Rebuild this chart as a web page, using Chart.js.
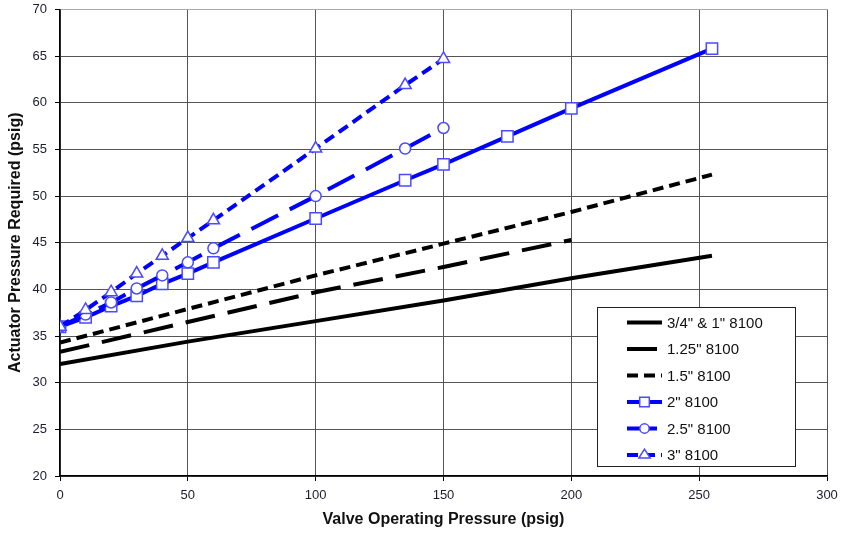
<!DOCTYPE html>
<html>
<head>
<meta charset="utf-8">
<script src="https://cdn.jsdelivr.net/npm/chart.js@4/dist/chart.umd.min.js"></script>
<style>
  html, body { margin: 0; padding: 0; background: #fff; }
  #wrap { width: 842px; height: 534px; }
</style>
</head>
<body>
<div id="wrap"><canvas id="myChart" width="842" height="534"></canvas></div>
<script>
// Series names (legend order)
const seriesNames = ['3/4" & 1" 8100', '1.25" 8100', '1.5" 8100', '2" 8100', '2.5" 8100', '3" 8100'];

// Valve operating pressure (x) and actuator pressure required (y) per series
const x34 = [0, 50, 100, 150, 200, 255];
const y34 = [32.0, 34.4, 36.6, 38.8, 41.2, 43.6];

const x125 = [0, 50, 100, 150, 200];
const y125 = [33.3, 36.5, 39.7, 42.4, 45.3];

const x15 = [0, 50, 100, 150, 200, 255];
const y15 = [34.3, 37.9, 41.5, 44.9, 48.3, 52.3];

const x2 = [0, 10, 20, 30, 40, 50, 60, 100, 135, 150, 175, 200, 255];
const y2 = [36.0, 37.0, 38.2, 39.3, 40.6, 41.7, 42.9, 47.6, 51.7, 53.4, 56.4, 59.4, 65.8];

const x25 = [0, 10, 20, 30, 40, 50, 60, 100, 135, 150];
const y25 = [36.0, 37.3, 38.6, 40.1, 41.5, 42.9, 44.4, 50.0, 55.1, 57.3];

const x3 = [0, 10, 20, 30, 40, 50, 60, 100, 135, 150];
const y3 = [36.0, 37.8, 39.7, 41.7, 43.6, 45.5, 47.4, 55.1, 61.9, 64.7];

// Axis ranges / ticks
const xMin = 0, xMax = 300, xStep = 50;
const yMin = 20, yMax = 70, yStep = 5;

const FONT = '"Liberation Sans", Arial, sans-serif';
const BLUE = '#0000ff';
const MARKER_EDGE = '#4a4aff';

function pts(xs, ys) {
    return xs.map((x, i) => ({ x: x, y: ys[i] }));
}

const styles = [
    { color: '#000', dash: [], marker: false },
    { color: '#000', dash: [30, 13], marker: false },
    { color: '#000', dash: [11, 6], marker: false },
    { color: BLUE, dash: [], marker: 'rect', radius: 8 },
    { color: BLUE, dash: [30, 13], marker: 'circle', radius: 5.5 },
    { color: BLUE, dash: [11, 6], marker: 'triangle', radius: 7 }
];

const seriesData = [pts(x34, y34), pts(x125, y125), pts(x15, y15), pts(x2, y2), pts(x25, y25), pts(x3, y3)];

const datasets = seriesData.map((d, i) => ({
    label: seriesNames[i],
    data: d,
    borderColor: styles[i].color,
    borderWidth: 4,
    borderDash: styles[i].dash,
    borderCapStyle: 'butt',
    tension: 0,
    fill: false,
    pointStyle: styles[i].marker || 'circle',
    pointRadius: styles[i].marker ? styles[i].radius : 0,
    pointHoverRadius: styles[i].marker ? styles[i].radius : 0,
    pointBackgroundColor: '#fff',
    pointBorderColor: MARKER_EDGE,
    pointBorderWidth: 1.5,
    order: 5 - i
}));

// Draw a marker like the chart points
function drawMarker(ctx, style, r, x, y) {
    ctx.save();
    ctx.setLineDash([]);
    ctx.fillStyle = '#fff';
    ctx.strokeStyle = MARKER_EDGE;
    ctx.lineWidth = 1.5;
    ctx.beginPath();
    if (style === 'rect') {
        const s = Math.SQRT1_2 * r;
        ctx.rect(x - s, y - s, 2 * s, 2 * s);
    } else if (style === 'circle') {
        ctx.arc(x, y, r, 0, Math.PI * 2);
    } else if (style === 'triangle') {
        const a = r * 0.866 * 1.1;
        ctx.moveTo(x, y - r);
        ctx.lineTo(x + a, y + r * 0.5);
        ctx.lineTo(x - a, y + r * 0.5);
        ctx.closePath();
    }
    ctx.fill();
    ctx.stroke();
    ctx.restore();
}

// Legend box inside the plot, like the original
const boxLegend = {
    id: 'boxLegend',
    afterDraw(chart) {
        const ctx = chart.ctx;
        const left = 597, top = 307, right = 795, bottom = 466;
        ctx.save();
        ctx.fillStyle = '#fff';
        ctx.fillRect(left, top, right - left, bottom - top);
        ctx.strokeStyle = '#222';
        ctx.lineWidth = 1;
        ctx.strokeRect(left + 0.5, top + 0.5, right - left, bottom - top);

        chart.data.datasets.forEach((ds, i) => {
            const y = 322.5 + i * 26.5;
            ctx.save();
            ctx.strokeStyle = ds.borderColor;
            ctx.lineWidth = 4;
            ctx.lineCap = 'butt';
            ctx.setLineDash(ds.borderDash);
            ctx.beginPath();
            ctx.moveTo(627, y);
            ctx.lineTo(662, y);
            ctx.stroke();
            ctx.restore();
            if (styles[i].marker) {
                drawMarker(ctx, styles[i].marker, styles[i].radius * 0.85, 644.5, y);
            }
            ctx.fillStyle = '#111';
            ctx.font = '15px ' + FONT;
            ctx.textBaseline = 'middle';
            ctx.textAlign = 'left';
            ctx.fillText(ds.label, 667, y + 1);
        });
        ctx.restore();
    }
};

const ctx = document.getElementById('myChart').getContext('2d');

const myChart = new Chart(ctx, {
    type: 'line',
    data: { datasets: datasets },
    options: {
        responsive: false,
        animation: false,
        events: [],
        layout: { padding: { left: 0, right: 15, top: 9, bottom: 0 } },
        plugins: {
            legend: { display: false },
            tooltip: { enabled: false }
        },
        scales: {
            x: {
                type: 'linear',
                min: xMin,
                max: xMax,
                afterFit: s => { s.height = 58; s.paddingLeft = 0; s.paddingRight = 0; },
                ticks: {
                    stepSize: xStep,
                    padding: 7,
                    color: '#1c1c2c',
                    font: { family: FONT, size: 13 }
                },
                grid: {
                    color: '#555',
                    lineWidth: 1,
                    tickColor: '#000',
                    tickLength: 5
                },
                border: { color: '#000', width: 1.5 },
                title: {
                    display: true,
                    text: 'Valve Operating Pressure (psig)',
                    color: '#111',
                    font: { family: FONT, size: 16, weight: 'bold' },
                    padding: { top: 0, bottom: 5 }
                }
            },
            y: {
                type: 'linear',
                min: yMin,
                max: yMax,
                afterFit: s => { s.width = 60; s.paddingTop = 0; s.paddingBottom = 0; },
                ticks: {
                    stepSize: yStep,
                    padding: 8,
                    color: '#1c1c2c',
                    font: { family: FONT, size: 13 }
                },
                grid: {
                    color: c => (c.tick && c.tick.value === yMax) ? '#aaa' : '#555',
                    lineWidth: 1,
                    tickColor: '#000',
                    tickLength: 5
                },
                border: { color: '#000', width: 1.5 },
                title: {
                    display: true,
                    text: 'Actuator Pressure Required (psig)',
                    color: '#111',
                    font: { family: FONT, size: 16, weight: 'bold' },
                    padding: { top: 6, bottom: 0 }
                }
            }
        }
    },
    plugins: [boxLegend]
});
</script>
</body>
</html>
